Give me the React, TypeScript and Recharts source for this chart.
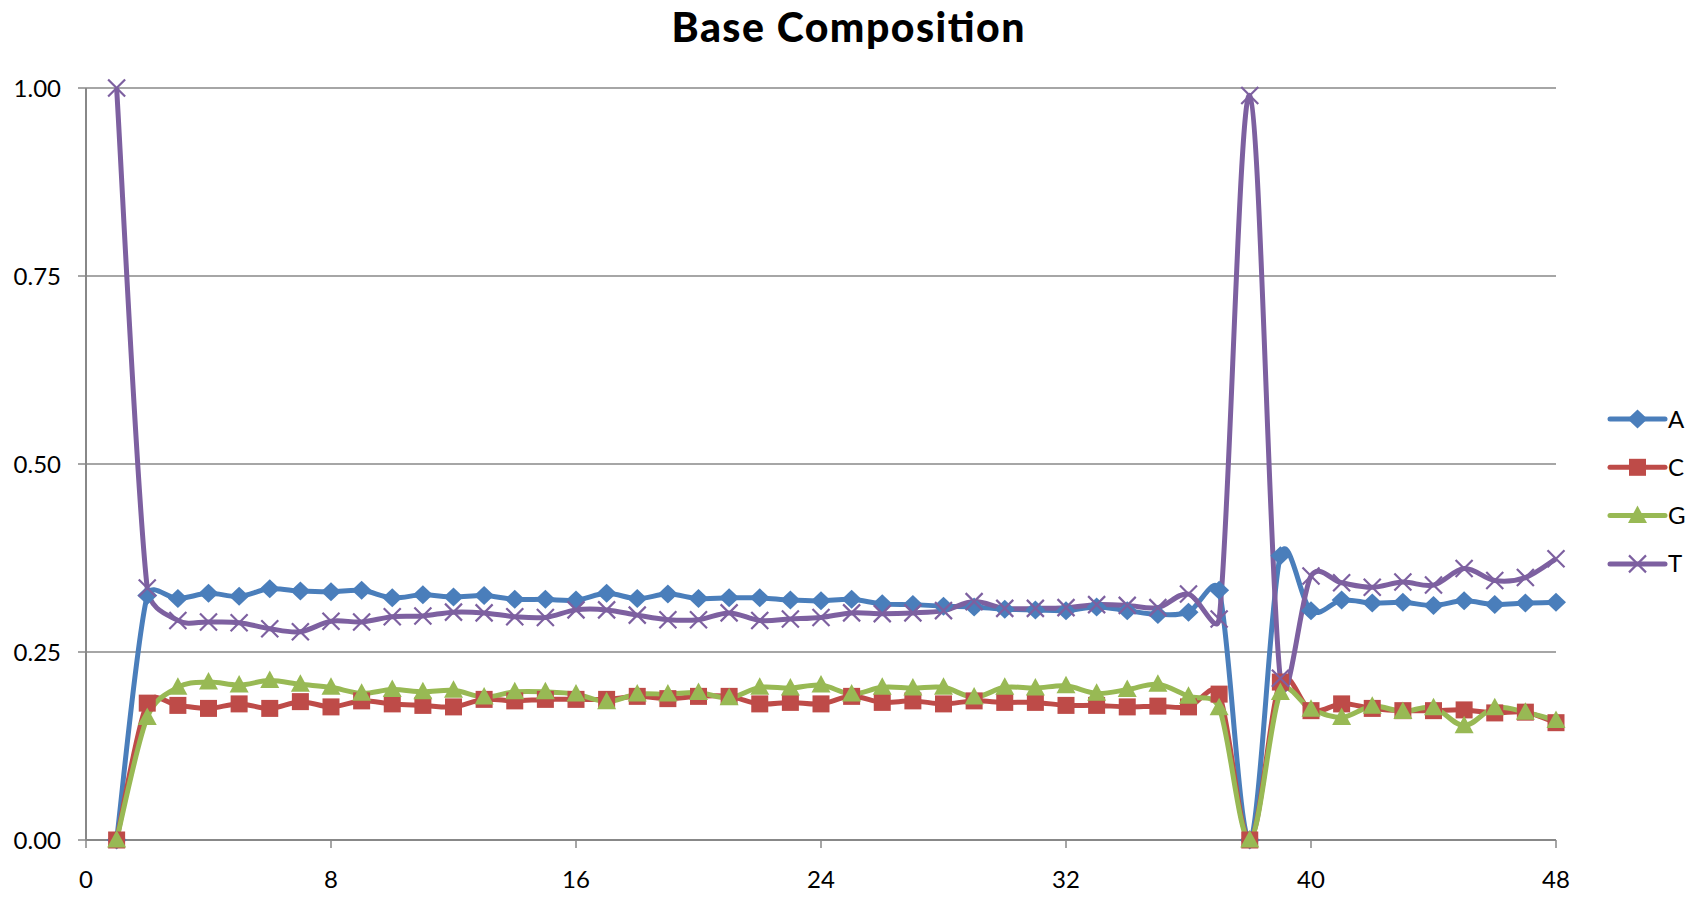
import { LineChart, Line, XAxis, YAxis, CartesianGrid } from 'recharts';

// ---------------------------------------------------------------------------
// Data
// ---------------------------------------------------------------------------

const positions = [
  1, 2, 3, 4, 5, 6, 7, 8, 9, 10, 11, 12, 13, 14, 15, 16, 17, 18, 19, 20, 21, 22, 23, 24,
  25, 26, 27, 28, 29, 30, 31, 32, 33, 34, 35, 36, 37, 38, 39, 40, 41, 42, 43, 44, 45, 46, 47, 48,
];

const baseA = [
  0, 0.325, 0.321, 0.328, 0.324, 0.334, 0.331, 0.33, 0.332, 0.322, 0.326, 0.323, 0.325, 0.32, 0.32, 0.319,
  0.328, 0.321, 0.327, 0.321, 0.322, 0.322, 0.319, 0.318, 0.32, 0.314, 0.313, 0.311, 0.31, 0.307, 0.306, 0.305,
  0.31, 0.305, 0.3, 0.303, 0.332, 0, 0.378, 0.305, 0.319, 0.315, 0.316, 0.312, 0.318, 0.313, 0.315, 0.316,
];

const baseC = [
  0, 0.182, 0.179, 0.175, 0.181, 0.175, 0.184, 0.177, 0.185, 0.181, 0.179, 0.177, 0.187, 0.185, 0.187, 0.187,
  0.187, 0.191, 0.188, 0.191, 0.191, 0.181, 0.183, 0.181, 0.191, 0.183, 0.185, 0.181, 0.185, 0.183, 0.183, 0.179,
  0.179, 0.177, 0.178, 0.177, 0.194, 0, 0.21, 0.172, 0.181, 0.175, 0.172, 0.172, 0.173, 0.169, 0.17, 0.156,
];

const baseG = [
  0, 0.163, 0.203, 0.21, 0.206, 0.212, 0.207, 0.203, 0.195, 0.2, 0.197, 0.199, 0.19, 0.197, 0.197, 0.194,
  0.184, 0.194, 0.194, 0.196, 0.189, 0.203, 0.202, 0.206, 0.194, 0.203, 0.202, 0.203, 0.19, 0.203, 0.202, 0.205,
  0.195, 0.2, 0.207, 0.191, 0.176, 0, 0.196, 0.174, 0.163, 0.178, 0.171, 0.176, 0.152, 0.176, 0.17, 0.159,
];

const baseT = [
  1, 0.335, 0.292, 0.29, 0.289, 0.281, 0.277, 0.291, 0.29, 0.297, 0.298, 0.303, 0.302, 0.297, 0.296, 0.306,
  0.306, 0.299, 0.293, 0.293, 0.302, 0.292, 0.294, 0.296, 0.302, 0.301, 0.302, 0.305, 0.317, 0.308, 0.308, 0.309,
  0.313, 0.312, 0.309, 0.327, 0.294, 0.99, 0.215, 0.351, 0.342, 0.336, 0.343, 0.339, 0.361, 0.345, 0.349, 0.374,
];

const xTicks = [0, 8, 16, 24, 32, 40, 48];
const yTicks = [0, 0.25, 0.5, 0.75, 1];

type MarkerShape = 'diamond' | 'square' | 'triangle' | 'cross';

const SERIES: { key: string; name: string; color: string; shape: MarkerShape }[] = [
  { key: 'A', name: 'A', color: '#4A7EBB', shape: 'diamond' },
  { key: 'C', name: 'C', color: '#BE4B48', shape: 'square' },
  { key: 'G', name: 'G', color: '#98B954', shape: 'triangle' },
  { key: 'T', name: 'T', color: '#7D60A0', shape: 'cross' },
];

const chartData = positions.map((pos, i) => ({
  pos,
  A: baseA[i],
  C: baseC[i],
  G: baseG[i],
  T: baseT[i],
}));

// ---------------------------------------------------------------------------
// Layout
// ---------------------------------------------------------------------------

const WIDTH = 1699;
const HEIGHT = 897;
const FONT = 'Lato, "Open Sans", sans-serif';
const GRID = '#888888';

// Office-style smoothing: cubic Bezier through each point. Tangents follow the
// neighbouring points (1/6 of the chord), with each control arm capped at half
// of its own segment so short steps next to big jumps don't overshoot.
const smoothCurve = (context: any) => {
  let pts: number[][] = [];
  const arm = (from: number[], dir: number[], segLen: number) => {
    let dx = dir[0] / 6;
    let dy = dir[1] / 6;
    const len = Math.hypot(dx, dy);
    const cap = segLen / 2;
    if (len > cap && len > 0) {
      dx *= cap / len;
      dy *= cap / len;
    }
    return [from[0] + dx, from[1] + dy];
  };
  return {
    areaStart() {},
    areaEnd() {},
    lineStart() {
      pts = [];
    },
    lineEnd() {
      const n = pts.length;
      if (!n) return;
      context.moveTo(pts[0][0], pts[0][1]);
      for (let i = 0; i < n - 1; i++) {
        const p0 = pts[i - 1] || pts[i];
        const p1 = pts[i];
        const p2 = pts[i + 1];
        const p3 = pts[i + 2] || p2;
        const seg = Math.hypot(p2[0] - p1[0], p2[1] - p1[1]);
        const c1 = arm(p1, [p2[0] - p0[0], p2[1] - p0[1]], seg);
        const c2 = arm(p2, [p1[0] - p3[0], p1[1] - p3[1]], seg);
        context.bezierCurveTo(c1[0], c1[1], c2[0], c2[1], p2[0], p2[1]);
      }
    },
    point(x: number, y: number) {
      pts.push([+x, +y]);
    },
  };
};

function Marker({ cx, cy, shape, color }: { cx: number; cy: number; shape: MarkerShape; color: string }) {
  switch (shape) {
    case 'diamond':
      return <path d={`M${cx},${cy - 9.5}L${cx + 10},${cy}L${cx},${cy + 9.5}L${cx - 10},${cy}Z`} fill={color} />;
    case 'square':
      return <rect x={cx - 8.5} y={cy - 8.5} width={17} height={17} fill={color} />;
    case 'triangle':
      return <path d={`M${cx},${cy - 10}L${cx + 9.5},${cy + 7.5}L${cx - 9.5},${cy + 7.5}Z`} fill={color} />;
    default:
      return (
        <path
          d={`M${cx - 8.5},${cy - 8.5}L${cx + 8.5},${cy + 8.5}M${cx + 8.5},${cy - 8.5}L${cx - 8.5},${cy + 8.5}`}
          stroke={color}
          strokeWidth={2.2}
          fill="none"
        />
      );
  }
}

const makeDot = (shape: MarkerShape, color: string) => (props: any) => {
  const { cx, cy, index } = props;
  if (cx == null || cy == null) return <g key={`dot-${index}`} />;
  return (
    <g key={`dot-${shape}-${index}`}>
      <Marker cx={cx} cy={cy} shape={shape} color={color} />
    </g>
  );
};

// ---------------------------------------------------------------------------
// Component
// ---------------------------------------------------------------------------

export default function App() {
  return (
    <div
      style={{
        position: 'absolute',
        left: 0,
        top: 0,
        width: WIDTH,
        height: HEIGHT,
        background: '#fff',
        fontFamily: FONT,
      }}
    >
      <LineChart
        width={WIDTH}
        height={HEIGHT}
        data={chartData}
        margin={{ top: 88, right: 143, bottom: 0, left: 0 }}
      >
        <CartesianGrid vertical={false} stroke={GRID} strokeWidth={1.5} />
        <XAxis
          dataKey="pos"
          type="number"
          domain={[0, 48]}
          ticks={xTicks}
          height={57}
          tickSize={8}
          tickMargin={23}
          axisLine={{ stroke: GRID, strokeWidth: 2 }}
          tickLine={{ stroke: GRID, strokeWidth: 1.5 }}
          tick={{ fill: '#000', fontSize: 24, fontFamily: FONT }}
        />
        <YAxis
          type="number"
          domain={[0, 1]}
          ticks={yTicks}
          width={86}
          tickSize={8}
          tickMargin={17}
          tickFormatter={(v: number) => v.toFixed(2)}
          axisLine={{ stroke: GRID, strokeWidth: 2 }}
          tickLine={{ stroke: GRID, strokeWidth: 1.5 }}
          tick={{ fill: '#000', fontSize: 24, fontFamily: FONT }}
        />
        {SERIES.map((s) => (
          <Line
            key={s.key}
            dataKey={s.key}
            name={s.name}
            type={smoothCurve as any}
            stroke={s.color}
            strokeWidth={5}
            dot={makeDot(s.shape, s.color)}
            activeDot={false}
            isAnimationActive={false}
          />
        ))}
      </LineChart>

      {/* Title and legend */}
      <svg
        width={WIDTH}
        height={HEIGHT}
        style={{ position: 'absolute', left: 0, top: 0, pointerEvents: 'none' }}
      >
        <text
          x={848}
          y={42}
          textAnchor="middle"
          fontFamily={FONT}
          fontWeight={900}
          fontSize={41}
          textLength={353}
          lengthAdjust="spacing"
          fill="#000"
        >
          Base Composition
        </text>
        {SERIES.map((s, i) => {
          const y = 419 + i * 48.3;
          return (
            <g key={s.key}>
              <line x1={1610} x2={1665} y1={y} y2={y} stroke={s.color} strokeWidth={5} strokeLinecap="round" />
              <Marker cx={1637.5} cy={y} shape={s.shape} color={s.color} />
              <text x={1668} y={y + 8.5} fontFamily={FONT} fontSize={24} fill="#000">
                {s.name}
              </text>
            </g>
          );
        })}
      </svg>
    </div>
  );
}
